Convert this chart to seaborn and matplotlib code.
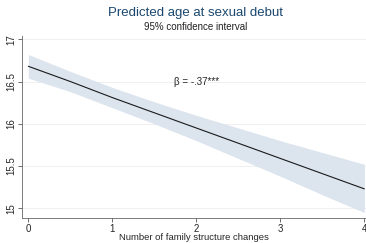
import pandas as pd
import matplotlib.pyplot as plt
import seaborn as sns

# predicted values and 95% CI
changes = [0, 0.5, 1, 1.5, 2, 2.5, 3, 3.5, 4]
predicted = [16.68, 16.50, 16.31, 16.13, 15.95, 15.77, 15.59, 15.41, 15.23]
lower = [16.54, 16.38, 16.19, 16.00, 15.80, 15.59, 15.38, 15.16, 14.95]
upper = [16.82, 16.62, 16.43, 16.26, 16.10, 15.95, 15.80, 15.66, 15.52]
x_ticks = [0, 1, 2, 3, 4]
y_ticks = [15, 15.5, 16, 16.5, 17]
y_labels = ["15", "15.5", "16", "16.5", "17"]

df = pd.DataFrame({"changes": changes, "predicted": predicted,
                   "lower": lower, "upper": upper})

sns.set_style("white")
plt.rcParams["font.family"] = ["Liberation Sans", "DejaVu Sans"]

fig = plt.figure(figsize=(3.66, 2.43), dpi=100)
ax = fig.add_axes([0.0593, 0.1028, 0.9407, 0.7492])

ax.fill_between(df["changes"], df["lower"], df["upper"], color="#dce4ee", lw=0, zorder=1)
sns.lineplot(data=df, x="changes", y="predicted", color="#1a1a1a", lw=0.8, ax=ax, zorder=3)

ax.set_xlim(-0.079, 4.02)
ax.set_ylim(14.885, 17.039)
ax.set_xticks(x_ticks)
ax.set_yticks(y_ticks)
ax.set_yticklabels(y_labels, rotation=90, va="center")
ax.tick_params(axis="both", labelsize=7, length=3, width=0.6, color="#555555", pad=1,
               bottom=True, left=True)
ax.grid(axis="y", color="#ececec", lw=0.6, zorder=0)
for s in ["top", "right"]:
    ax.spines[s].set_visible(False)
for s in ["left", "bottom"]:
    ax.spines[s].set_color("#666666")
    ax.spines[s].set_linewidth(0.6)

ax.set_xlabel("Number of family structure changes", fontsize=6.8, labelpad=-0.5)
ax.set_ylabel("")
ax.text(2.0, 16.5, "β = -.37***", fontsize=7, ha="center", va="center", zorder=4)

fig.text(0.535, 0.948, "Predicted age at sexual debut", fontsize=9.5, color="#1a476f",
         ha="center", va="center")
fig.text(0.535, 0.89, "95% confidence interval", fontsize=7, color="#222222",
         ha="center", va="center")

fig.savefig("out.png", dpi=100)
